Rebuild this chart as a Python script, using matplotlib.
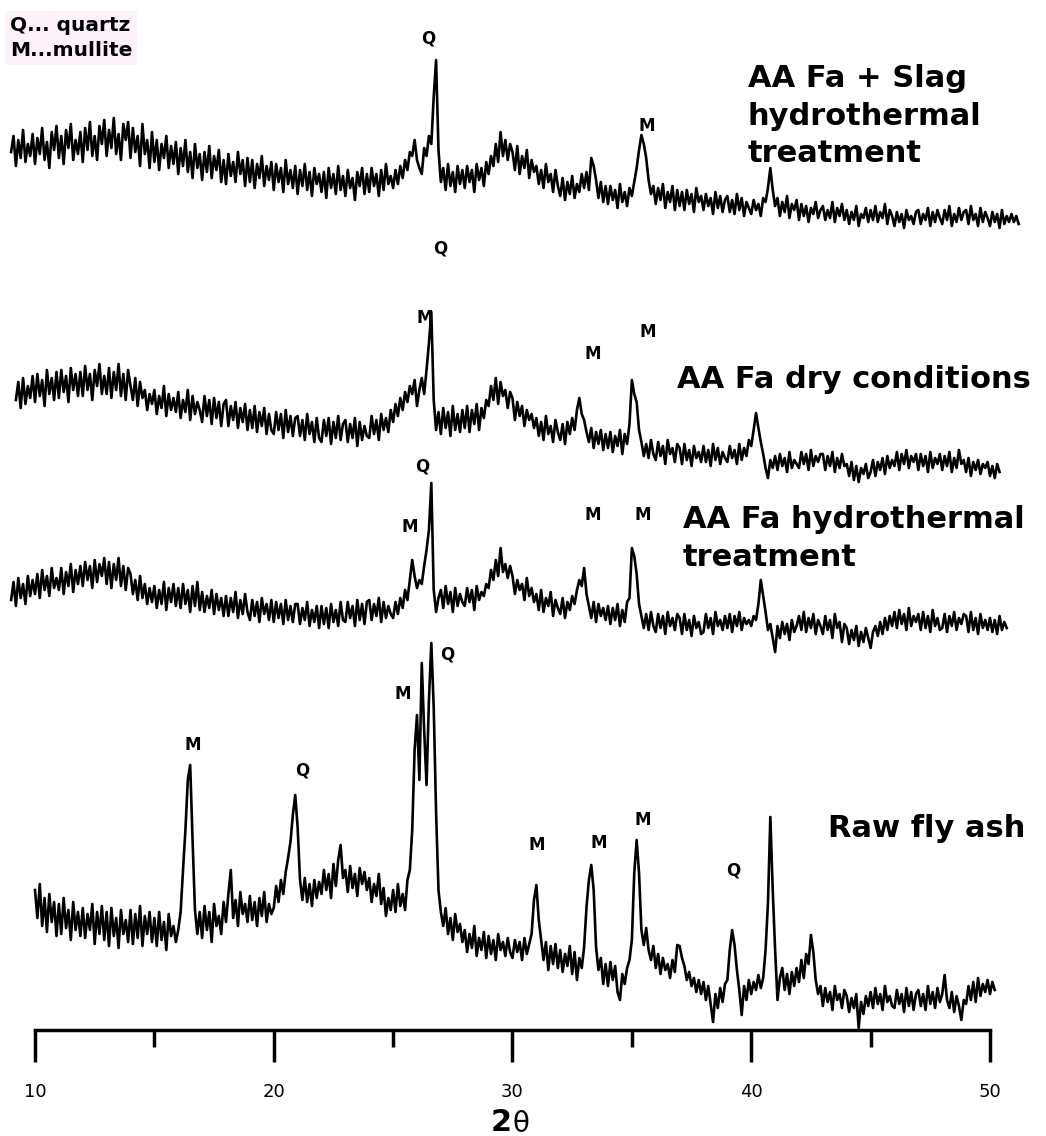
import numpy as np
import matplotlib
matplotlib.use('Agg')
import matplotlib.pyplot as plt

plt.rcParams['font.family'] = ['DejaVu Sans']

# XRD patterns, intensity in arbitrary units, sampled every 0.1 deg 2theta
step = 0.1

# AA Fa + Slag hydrothermal treatment (starts at 9.0)
slag_start = 9.0
slag = [
    88, 104, 74, 100, 82, 110, 78, 96, 84, 106,
    76, 102, 86, 112, 80, 98, 72, 108, 90, 114,
    82, 104, 76, 110, 92, 116, 80, 100, 86, 108,
    78, 112, 90, 118, 84, 104, 80, 114, 96, 120,
    84, 110, 92, 122, 86, 106, 80, 116, 100, 118,
    82, 112, 88, 104, 74, 116, 86, 100, 72, 108,
    78, 100, 70, 96, 82, 104, 72, 94, 76, 98,
    66, 92, 74, 100, 68, 88, 62, 96, 72, 86,
    60, 88, 68, 94, 62, 84, 70, 90, 58, 80,
    56, 86, 64, 78, 58, 88, 66, 80, 54, 82,
    58, 80, 52, 76, 62, 84, 54, 74, 60, 78,
    50, 76, 58, 72, 48, 80, 56, 70, 52, 74,
    46, 70, 54, 76, 50, 68, 44, 72, 56, 66,
    48, 68, 42, 72, 52, 66, 46, 74, 50, 64,
    44, 70, 52, 62, 40, 68, 54, 72, 46, 66,
    48, 72, 54, 66, 44, 70, 50, 76, 56, 64,
    52, 70, 56, 74, 62, 80, 70, 88, 84, 100,
    80, 72, 66, 92, 84, 104, 96, 143, 180, 90,
    58, 72, 50, 76, 54, 68, 48, 74, 56, 70,
    52, 74, 58, 70, 48, 76, 60, 72, 54, 78,
    66, 84, 74, 96, 78, 108, 84, 100, 80, 96,
    88, 70, 94, 66, 84, 72, 90, 62, 80, 68,
    74, 56, 70, 52, 76, 58, 66, 48, 70, 54,
    44, 62, 40, 58, 46, 64, 42, 56, 48, 66,
    52, 68, 50, 82, 74, 60, 42, 58, 38, 54,
    36, 54, 40, 50, 32, 56, 38, 48, 34, 52,
    44, 58, 72, 90, 105, 96, 82, 60, 46, 54,
    36, 52, 40, 56, 32, 48, 38, 54, 30, 50,
    34, 48, 30, 50, 36, 46, 28, 52, 38, 44,
    30, 46, 34, 42, 26, 48, 32, 44, 28, 40,
    44, 28, 40, 26, 46, 30, 42, 24, 38, 32,
    26, 40, 30, 36, 24, 42, 38, 52, 72, 50,
    34, 42, 24, 38, 28, 44, 22, 36, 30, 40,
    20, 36, 24, 34, 18, 32, 26, 38, 22, 30,
    34, 20, 30, 22, 38, 18, 32, 24, 36, 20,
    30, 16, 28, 20, 34, 14, 26, 22, 32, 18,
    30, 20, 34, 18, 28, 22, 36, 16, 30, 24,
    14, 28, 18, 26, 12, 30, 20, 24, 16, 28,
    30, 16, 26, 20, 32, 14, 28, 18, 30, 22,
    16, 30, 20, 34, 14, 26, 18, 32, 20, 28,
    30, 16, 34, 20, 26, 14, 32, 18, 28, 22,
    14, 28, 18, 26, 12, 30, 16, 24, 18, 26,
    18, 24, 16,
]

# AA Fa dry conditions (starts at 9.2)
dry_start = 9.2
dry = [
    90, 108, 82, 112, 86, 104, 92, 114,
    88, 116, 94, 110, 84, 120, 96, 112, 90, 118,
    92, 120, 98, 114, 88, 122, 100, 116, 94, 118,
    94, 124, 100, 116, 90, 120, 104, 126, 96, 114,
    96, 122, 92, 118, 100, 126, 94, 116, 90, 120,
    104, 90, 112, 84, 108, 92, 100, 80, 96, 86,
    100, 76, 94, 82, 104, 74, 96, 80, 92, 78,
    98, 72, 90, 78, 100, 70, 94, 76, 88, 80,
    68, 94, 74, 90, 66, 92, 72, 88, 64, 86,
    90, 64, 84, 70, 88, 62, 82, 68, 86, 60,
    80, 62, 84, 58, 78, 64, 82, 56, 76, 60,
    56, 78, 60, 76, 52, 80, 58, 74, 54, 72,
    74, 54, 70, 50, 76, 56, 68, 48, 72, 52,
    48, 70, 54, 72, 46, 68, 52, 74, 50, 66,
    70, 48, 66, 52, 72, 44, 68, 50, 64, 54,
    52, 74, 56, 70, 50, 76, 60, 72, 58, 80,
    68, 86, 74, 92, 80, 98, 88, 104, 96, 110,
    84, 100, 112, 96, 120, 147, 178, 90, 60, 78,
    56, 82, 62, 78, 54, 84, 60, 76, 58, 80,
    62, 84, 58, 80, 66, 86, 60, 82, 72, 90,
    84, 104, 90, 112, 86, 108, 94, 100, 82, 98,
    92, 70, 88, 74, 84, 64, 80, 70, 76, 62,
    72, 54, 68, 50, 74, 56, 64, 48, 70, 58,
    50, 66, 46, 68, 56, 72, 60, 80, 92, 76,
    70, 58, 48, 62, 42, 58, 46, 60, 40, 56,
    42, 58, 38, 54, 44, 60, 36, 56, 46, 66,
    110, 96, 88, 60, 48, 34, 46, 32, 50, 36,
    30, 48, 34, 44, 26, 50, 36, 42, 28, 46,
    42, 26, 46, 30, 40, 24, 44, 32, 38, 28,
    44, 28, 40, 24, 46, 30, 42, 26, 38, 32,
    28, 44, 32, 40, 26, 46, 30, 42, 34, 50,
    44, 60, 77, 62, 48, 36, 22, 12, 30, 22,
    34, 20, 36, 24, 32, 18, 38, 22, 30, 26,
    22, 38, 26, 36, 20, 40, 24, 34, 28, 36,
    36, 20, 34, 24, 38, 18, 32, 22, 36, 24,
    26, 14, 28, 10, 24, 8, 22, 16, 26, 12,
    18, 30, 14, 28, 20, 32, 16, 34, 22, 30,
    24, 38, 20, 36, 26, 40, 22, 34, 28, 36,
    20, 36, 24, 34, 18, 38, 22, 32, 26, 36,
    20, 34, 24, 38, 18, 32, 22, 40, 26, 30,
    18, 32, 14, 28, 20, 30, 16, 26, 22, 28,
    14, 24, 12, 26, 18,
]

# AA Fa hydrothermal treatment (starts at 9.0)
hydro_start = 9.0
hydro = [
    60, 78, 54, 82, 62, 76, 56, 84, 64, 80,
    66, 86, 62, 90, 70, 84, 64, 92, 72, 82,
    70, 92, 66, 88, 74, 96, 68, 90, 76, 94,
    74, 98, 80, 94, 72, 100, 78, 96, 84, 102,
    76, 98, 72, 96, 80, 102, 74, 94, 70, 92,
    86, 66, 80, 60, 84, 62, 76, 56, 72, 58,
    74, 52, 70, 56, 78, 50, 72, 58, 76, 54,
    72, 52, 76, 56, 70, 48, 74, 54, 78, 50,
    68, 48, 64, 52, 70, 46, 66, 50, 62, 44,
    64, 44, 62, 48, 68, 42, 60, 46, 66, 48,
    40, 60, 44, 58, 38, 62, 46, 56, 40, 60,
    38, 58, 42, 56, 36, 60, 40, 54, 38, 56,
    56, 36, 52, 40, 58, 34, 50, 38, 54, 32,
    54, 36, 52, 32, 56, 38, 50, 34, 58, 40,
    38, 58, 42, 54, 34, 60, 40, 56, 36, 58,
    60, 40, 56, 44, 62, 38, 58, 42, 54, 46,
    42, 58, 46, 62, 52, 70, 60, 80, 100, 84,
    72, 80, 76, 94, 110, 130, 177, 70, 48, 62,
    70, 52, 74, 56, 68, 48, 72, 54, 66, 58,
    54, 72, 58, 70, 50, 74, 60, 68, 64, 76,
    72, 90, 80, 100, 84, 112, 88, 96, 82, 94,
    84, 66, 80, 70, 76, 60, 82, 64, 72, 58,
    66, 50, 70, 48, 62, 54, 68, 44, 60, 52,
    46, 62, 42, 58, 50, 64, 56, 70, 80, 74,
    92, 66, 54, 42, 58, 38, 56, 44, 52, 40,
    54, 36, 52, 40, 56, 34, 50, 38, 58, 62,
    112, 104, 86, 56, 44, 32, 46, 30, 48, 34,
    28, 46, 32, 44, 26, 48, 34, 42, 30, 46,
    42, 26, 46, 30, 40, 24, 44, 32, 38, 26,
    28, 46, 32, 42, 26, 48, 34, 40, 30, 44,
    32, 46, 28, 44, 34, 48, 30, 42, 36, 40,
    34, 44, 40, 56, 80, 64, 48, 30, 36, 22,
    8, 34, 22, 38, 26, 36, 20, 40, 28, 34,
    44, 30, 48, 28, 42, 32, 46, 26, 40, 34,
    26, 44, 30, 40, 22, 46, 32, 38, 18, 36,
    32, 16, 30, 20, 34, 14, 28, 18, 32, 22,
    12, 28, 34, 24, 38, 26, 42, 30, 44, 34,
    48, 32, 50, 36, 46, 30, 52, 34, 44, 38,
    46, 30, 48, 32, 44, 28, 50, 34, 42, 30,
    32, 46, 28, 44, 34, 48, 30, 42, 36, 46,
    44, 28, 48, 30, 42, 26, 46, 32, 40, 30,
    42, 28, 40, 26, 44, 30, 38, 32,
]

# Raw fly ash (starts at 10.0)
raw_start = 10.0
raw = [
    140, 112, 146, 104, 132, 98, 136, 108, 128, 94,
    126, 96, 132, 102, 120, 90, 128, 100, 118, 94,
    122, 92, 116, 100, 126, 86, 118, 96, 124, 90,
    118, 84, 122, 94, 112, 82, 120, 96, 110, 88,
    120, 86, 116, 92, 124, 84, 114, 96, 118, 88,
    112, 84, 118, 90, 108, 80, 116, 94, 104, 88,
    100, 118, 160, 200, 250, 265, 190, 120, 96, 118,
    92, 124, 100, 118, 88, 126, 104, 114, 96, 128,
    108, 136, 160, 112, 130, 104, 138, 116, 126, 108,
    134, 110, 128, 104, 132, 114, 138, 108, 126, 116,
    122, 144, 128, 150, 136, 158, 172, 188, 215, 235,
    203, 150, 130, 152, 128, 146, 124, 150, 132, 148,
    136, 160, 140, 156, 132, 166, 144, 170, 185, 152,
    160, 138, 164, 142, 156, 134, 162, 146, 158, 140,
    152, 128, 146, 134, 156, 126, 142, 114, 132, 120,
    140, 118, 146, 124, 136, 120, 150, 160, 200, 280,
    315, 250, 367, 300, 245, 330, 387, 323, 217, 140,
    118, 104, 122, 96, 112, 90, 116, 98, 106, 88,
    100, 78, 96, 82, 104, 74, 92, 80, 98, 72,
    94, 76, 90, 70, 96, 80, 88, 74, 92, 78,
    72, 90, 78, 88, 70, 92, 76, 86, 96, 130,
    145, 110, 90, 70, 88, 60, 84, 66, 86, 62,
    80, 58, 76, 64, 84, 56, 78, 50, 72, 62,
    83, 123, 150, 165, 140, 83, 60, 72, 46, 66,
    44, 68, 50, 64, 38, 30, 56, 46, 62, 70,
    90, 157, 190, 157, 100, 85, 102, 80, 70, 84,
    62, 76, 56, 72, 60, 66, 52, 70, 58, 85,
    84, 72, 64, 50, 58, 44, 52, 38, 50, 36,
    48, 30, 44, 26, 8, 36, 22, 42, 28, 46,
    50, 80, 100, 85, 60, 40, 15, 44, 30, 50,
    36, 48, 40, 55, 42, 52, 80, 127, 213, 140,
    80, 30, 52, 62, 40, 56, 36, 58, 44, 62,
    48, 70, 52, 76, 66, 95, 78, 50, 36, 44,
    24, 42, 28, 38, 20, 44, 30, 36, 22, 40,
    34, 18, 32, 22, 36, 2, 28, 16, 34, 24,
    38, 22, 42, 26, 36, 20, 44, 28, 34, 24,
    22, 40, 26, 36, 18, 42, 24, 38, 20, 36,
    40, 24, 36, 20, 44, 26, 38, 22, 42, 28,
    36, 55, 30, 22, 38, 18, 34, 24, 10, 30,
    26, 44, 30, 48, 28, 52, 34, 46, 38, 50,
    36, 48, 40,
]

sample_names = ['AA Fa + Slag\nhydrothermal\ntreatment', 'AA Fa dry conditions',
                'AA Fa hydrothermal\ntreatment', 'Raw fly ash']

# phase markers: (2theta, height, letter)
peak_marks = [
    (26.46, 992, 'Q'), (35.63, 904, 'M'),
    (26.96, 782, 'Q'), (26.34, 712, 'M'), (33.37, 676, 'M'), (35.68, 698, 'M'),
    (26.21, 563, 'Q'), (25.71, 503, 'M'), (33.37, 515, 'M'), (35.47, 515, 'M'),
    (16.62, 285, 'M'), (21.18, 259, 'Q'), (25.41, 336, 'M'), (27.26, 376, 'Q'),
    (31.03, 185, 'M'), (33.62, 187, 'M'), (35.47, 210, 'M'), (39.24, 160, 'Q'),
]

# vertical offsets of the stacked patterns and label anchors
offsets = [790, 540, 370, 0]
label_pos = [(39.86, 966), (36.89, 665), (37.14, 525), (43.21, 216)]

fig = plt.figure(figsize=(10.46, 11.36), dpi=100)
ax = fig.add_axes([0, 0, 1, 1])
ax.set_xlim(8.534, 52.346)
ax.set_ylim(-106, 1030)

for start, vals, off in zip([slag_start, dry_start, hydro_start, raw_start],
                            [slag, dry, hydro, raw], offsets):
    x = start + step * np.arange(len(vals))
    ax.plot(x, np.array(vals) + off, color='black', lw=1.9)

for name, (lx, ly) in zip(sample_names, label_pos):
    ax.text(lx, ly, name, fontsize=22, fontweight='bold', ha='left', va='top',
            linespacing=1.38)

for px, py, letter in peak_marks:
    ax.text(px, py, letter, fontsize=12, fontweight='bold', ha='center', va='center')

ax.text(8.95, 1030 - 16, 'Q... quartz\nM...mullite', fontsize=14.5, fontweight='bold',
        ha='left', va='top', linespacing=1.4,
        bbox=dict(boxstyle='square,pad=0.25', fc='#fdf2fa', ec='none'))

# only a bottom axis, 10..50
for s in ['left', 'right', 'top']:
    ax.spines[s].set_visible(False)
ax.spines['bottom'].set_position(('data', 0))
ax.spines['bottom'].set_bounds(10, 50)
ax.spines['bottom'].set_linewidth(2.5)
ax.set_xticks([10, 20, 30, 40, 50])
ax.set_xticks([15, 25, 35, 45], minor=True)
ax.tick_params(axis='x', which='major', direction='out', length=23, width=2.5,
               pad=15, labelsize=13)
ax.tick_params(axis='x', which='minor', direction='out', length=12, width=2.5)
ax.set_yticks([])

ax.text(29.98, -78, '2', fontsize=22, fontweight='bold', ha='right', va='top')
ax.text(29.98, -80, 'θ', fontsize=20, ha='left', va='top')

fig.savefig('out.png', dpi=100)
